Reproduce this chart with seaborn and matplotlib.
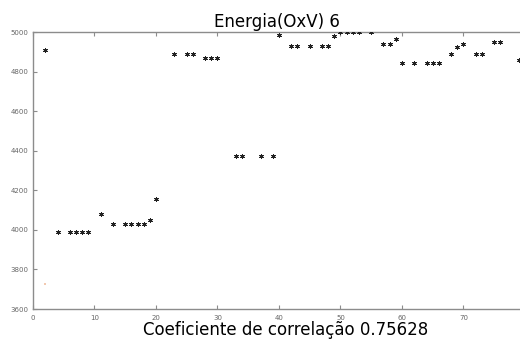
import matplotlib
matplotlib.use("Agg")
import matplotlib.pyplot as plt
import seaborn as sns
import pandas as pd

x_vals = [2, 4, 6, 7, 8, 9, 11, 13, 15, 16, 17, 18, 19, 20, 23, 25, 26, 28, 29, 30,
          33, 34, 37, 39, 40, 42, 43, 45, 47, 48, 49, 50, 51, 52, 53, 55, 57, 58, 59,
          60, 62, 64, 65, 66, 68, 69, 70, 72, 73, 75, 76, 79]
energy = [4910, 3988, 3988, 3988, 3988, 3988, 4082, 4030, 4030, 4030, 4030, 4030, 4051, 4157,
          4892, 4892, 4892, 4872, 4872, 4872, 4372, 4372, 4372, 4372, 4985, 4929, 4929, 4929,
          4929, 4929, 4983, 5000, 5000, 5000, 5000, 5000, 4939, 4939, 4965, 4845, 4845, 4845,
          4845, 4845, 4889, 4927, 4939, 4889, 4889, 4951, 4951, 4860]
faint_x = [2]
faint_y = [3725]
x_ticks = [0, 10, 20, 30, 40, 50, 60, 70]
y_ticks = [3600, 3800, 4000, 4200, 4400, 4600, 4800, 5000]
title = "Energia(OxV) 6"
xlabel = "Coeficiente de correlação 0.75628"

sns.set_theme(style="white")
plt.rcParams['font.family'] = ['DejaVu Sans']

df = pd.DataFrame({"x": x_vals, "y": energy})
df2 = pd.DataFrame({"x": faint_x, "y": faint_y})

fig = plt.figure(figsize=(5.2, 3.4), dpi=100)
ax = fig.add_axes([33/520, 1 - 309/340, 1 - 33/520, (309 - 32.3)/340])

sns.scatterplot(data=df, x="x", y="y", marker=(6, 2, 0), color="#222222",
                edgecolor="#222222", s=9, linewidth=0.7, ax=ax, zorder=3)
sns.scatterplot(data=df2, x="x", y="y", marker="s", color="#f2c9b0", s=2,
                linewidth=0, ax=ax, zorder=2)

ax.set_xlim(0, 79.2)
ax.set_ylim(3600, 5000)
ax.set_xticks(x_ticks)
ax.set_yticks(y_ticks)
ax.set_xticklabels([str(t) for t in x_ticks])
ax.set_yticklabels([str(t) for t in y_ticks])

for s in ["left", "bottom", "top"]:
    ax.spines[s].set_visible(True)
    ax.spines[s].set_color("#8c8c8c")
    ax.spines[s].set_linewidth(1.0)
ax.spines["right"].set_visible(False)

ax.tick_params(axis="both", which="major", direction="in", length=3, width=0.8,
               color="#8c8c8c", labelsize=5, labelcolor="#666666", pad=3,
               bottom=True, left=True, top=True)
ax.tick_params(axis="x", pad=4)

ax.set_title(title, fontsize=12, pad=4, color="black")
ax.set_xlabel(xlabel, fontsize=12, color="black")
ax.xaxis.set_label_coords(0.518, -0.045, transform=ax.transAxes)
ax.xaxis.label.set_va("top")
ax.set_ylabel("")

fig.savefig("out.png", dpi=100)
